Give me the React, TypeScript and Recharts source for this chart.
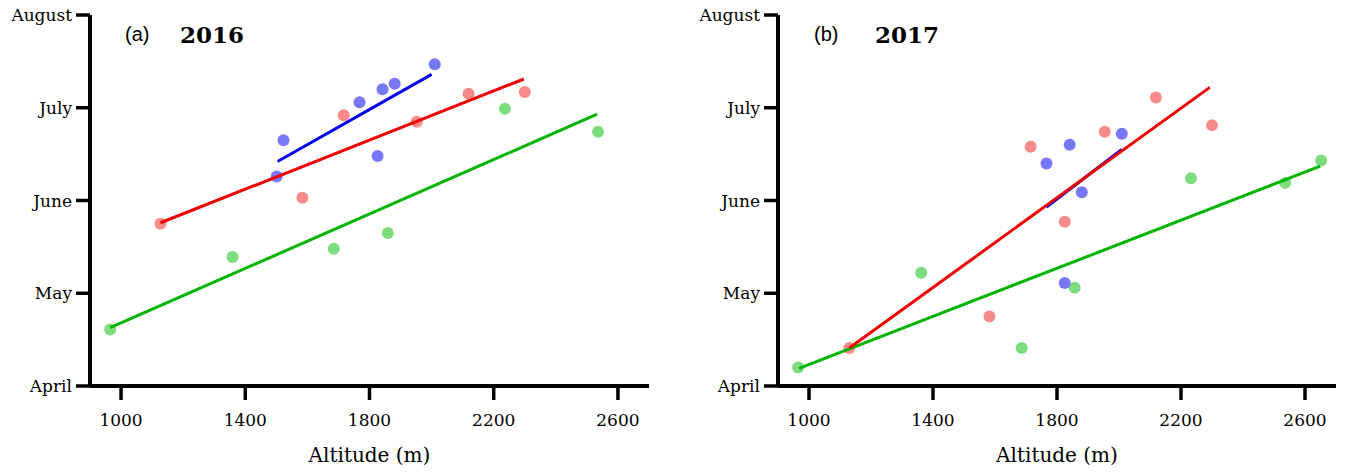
import { ScatterChart, Scatter, XAxis, YAxis, Label } from 'recharts';

// altitude (m) vs month (4 = April ... 8 = August)
const ALT_TICKS = [1000, 1400, 1800, 2200, 2600];
const MONTH_TICKS = [4, 5, 6, 7, 8];
const MONTH_NAMES: Record<number, string> = { 4: 'April', 5: 'May', 6: 'June', 7: 'July', 8: 'August' };

// 2016
const blue2016 = [
  { alt: 1501, m: 6.26 }, { alt: 1523, m: 6.65 }, { alt: 1768, m: 7.06 }, { alt: 1826, m: 6.48 },
  { alt: 1842, m: 7.2 }, { alt: 1881, m: 7.26 }, { alt: 2010, m: 7.47 },
];
const red2016 = [
  { alt: 1127, m: 5.75 }, { alt: 1584, m: 6.03 }, { alt: 1717, m: 6.92 }, { alt: 1952, m: 6.85 },
  { alt: 2119, m: 7.15 }, { alt: 2300, m: 7.17 },
];
const green2016 = [
  { alt: 965, m: 4.61 }, { alt: 1359, m: 5.39 }, { alt: 1685, m: 5.48 }, { alt: 1859, m: 5.65 },
  { alt: 2236, m: 6.99 }, { alt: 2536, m: 6.74 },
];
const blueFit2016 = [{ alt: 1504, m: 6.42 }, { alt: 2000, m: 7.36 }];
const redFit2016 = [{ alt: 1127, m: 5.76 }, { alt: 2297, m: 7.31 }];
const greenFit2016 = [{ alt: 965, m: 4.63 }, { alt: 2533, m: 6.93 }];

// 2017
const blue2017 = [
  { alt: 1766, m: 6.4 }, { alt: 1825, m: 5.11 }, { alt: 1841, m: 6.6 }, { alt: 1880, m: 6.09 },
  { alt: 2009, m: 6.72 },
];
const red2017 = [
  { alt: 1130, m: 4.41 }, { alt: 1582, m: 4.75 }, { alt: 1715, m: 6.58 }, { alt: 1825, m: 5.77 },
  { alt: 1954, m: 6.74 }, { alt: 2119, m: 7.11 }, { alt: 2300, m: 6.81 },
];
const green2017 = [
  { alt: 965, m: 4.2 }, { alt: 1362, m: 5.22 }, { alt: 1686, m: 4.41 }, { alt: 1857, m: 5.06 },
  { alt: 2232, m: 6.24 }, { alt: 2536, m: 6.19 }, { alt: 2652, m: 6.43 },
];
const blueFit2017 = [{ alt: 1766, m: 5.93 }, { alt: 2009, m: 6.55 }];
const redFit2017 = [{ alt: 1130, m: 4.41 }, { alt: 2293, m: 7.22 }];
const greenFit2017 = [{ alt: 968, m: 4.19 }, { alt: 2649, m: 6.37 }];

const DOT = { blue: '#7878f6', red: '#f78a8a', green: '#7ddc7d' };
const LINE = { blue: '#0000f0', red: '#f00000', green: '#00b400' };

const dot = (fill: string) => (p: any) => <circle cx={p.cx} cy={p.cy} r={6} fill={fill} />;
const noDot = () => <g />;

const tickFont = { fontFamily: 'DejaVu Serif', fontSize: 17, fill: '#000' };
const axisStyle = { stroke: '#000', strokeWidth: 4 };
const tickStyle = { stroke: '#000', strokeWidth: 3.5 };

function Panel({ width, right, pts, fits }: {
  width: number; right: number;
  pts: { blue: any[]; red: any[]; green: any[] };
  fits: { blue: any[]; red: any[]; green: any[] };
}) {
  return (
    <ScatterChart width={width} height={475} margin={{ top: 15, right, left: 0, bottom: 0 }}>
      <XAxis
        type="number" dataKey="alt" domain={[900, 2700]} ticks={ALT_TICKS}
        height={89} tickSize={14} tickMargin={14}
        axisLine={axisStyle} tickLine={tickStyle} tick={tickFont}
      >
        <Label value="Altitude (m)" position="insideBottom" offset={13}
          style={{ fontFamily: 'DejaVu Serif', fontSize: 20, fill: '#000' }} />
      </XAxis>
      <YAxis
        type="number" dataKey="m" domain={[4, 8]} ticks={MONTH_TICKS} width={90}
        tickSize={14} tickMargin={4} tickFormatter={(v: number) => MONTH_NAMES[v]}
        axisLine={axisStyle} tickLine={tickStyle} tick={tickFont}
      />
      <Scatter data={pts.green} shape={dot(DOT.green)} isAnimationActive={false} />
      <Scatter data={pts.red} shape={dot(DOT.red)} isAnimationActive={false} />
      <Scatter data={pts.blue} shape={dot(DOT.blue)} isAnimationActive={false} />
      <Scatter data={fits.green} shape={noDot} line={{ stroke: LINE.green, strokeWidth: 3 }} isAnimationActive={false} />
      <Scatter data={fits.blue} shape={noDot} line={{ stroke: LINE.blue, strokeWidth: 3 }} isAnimationActive={false} />
      <Scatter data={fits.red} shape={noDot} line={{ stroke: LINE.red, strokeWidth: 3 }} isAnimationActive={false} />
    </ScatterChart>
  );
}

export default function App() {
  return (
    <div style={{ position: 'absolute', left: 0, top: 0, width: 1346, height: 475, background: '#fff', overflow: 'hidden' }}>
      <div style={{ position: 'absolute', left: 0, top: 0 }}>
        <Panel width={670} right={21}
          pts={{ blue: blue2016, red: red2016, green: green2016 }}
          fits={{ blue: blueFit2016, red: redFit2016, green: greenFit2016 }} />
      </div>
      <div style={{ position: 'absolute', left: 688, top: 0 }}>
        <Panel width={658} right={10}
          pts={{ blue: blue2017, red: red2017, green: green2017 }}
          fits={{ blue: blueFit2017, red: redFit2017, green: greenFit2017 }} />
      </div>
      <svg width={1346} height={475} style={{ position: 'absolute', left: 0, top: 0, pointerEvents: 'none' }}>
        <text x={125} y={41} fontFamily="Liberation Sans" fontSize={20}>(a)</text>
        <text x={180} y={43} fontFamily="DejaVu Serif" fontWeight="bold" fontSize={23}>2016</text>
        <text x={814} y={41} fontFamily="Liberation Sans" fontSize={20}>(b)</text>
        <text x={875} y={43} fontFamily="DejaVu Serif" fontWeight="bold" fontSize={23}>2017</text>
      </svg>
    </div>
  );
}
